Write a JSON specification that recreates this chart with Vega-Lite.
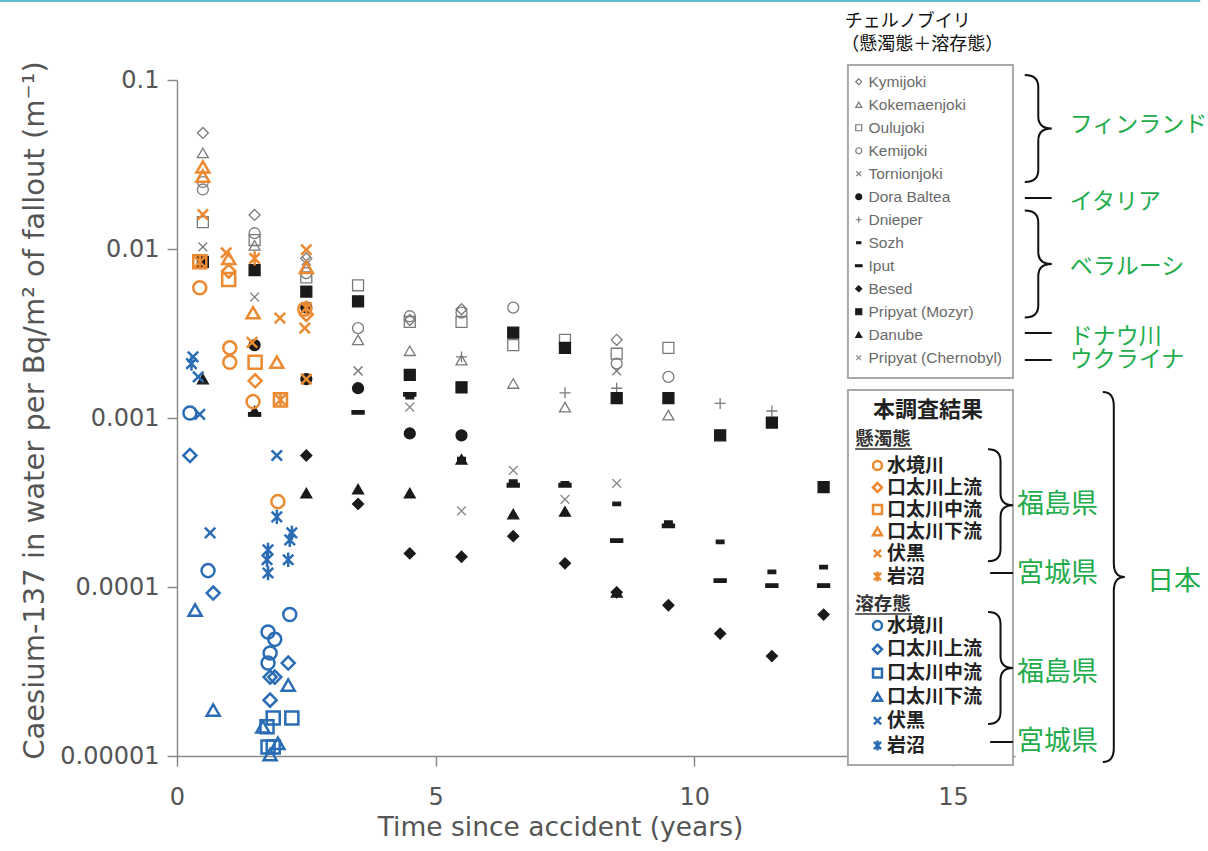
{
  "$schema": "https://vega.github.io/schema/vega-lite/v6.json",
  "width": 838,
  "height": 676,
  "autosize": {"type": "none"},
  "padding": {"left": 177, "top": 80, "right": 193, "bottom": 95},
  "background": "white",
  "config": {"view": {"stroke": null}},
  "datasets": {
    "cher": [
      {"year": 0.5, "value": 0.0486, "river": "Kymijoki"},
      {"year": 1.5, "value": 0.0159, "river": "Kymijoki"},
      {"year": 2.5, "value": 0.0088, "river": "Kymijoki"},
      {"year": 4.5, "value": 0.0038, "river": "Kymijoki"},
      {"year": 5.5, "value": 0.0044, "river": "Kymijoki"},
      {"year": 8.5, "value": 0.0029, "river": "Kymijoki"},
      {"year": 0.5, "value": 0.037, "river": "Kokemaenjoki"},
      {"year": 1.5, "value": 0.0105, "river": "Kokemaenjoki"},
      {"year": 2.5, "value": 0.0077, "river": "Kokemaenjoki"},
      {"year": 3.5, "value": 0.0029, "river": "Kokemaenjoki"},
      {"year": 4.5, "value": 0.0025, "river": "Kokemaenjoki"},
      {"year": 5.5, "value": 0.0022, "river": "Kokemaenjoki"},
      {"year": 6.5, "value": 0.0016, "river": "Kokemaenjoki"},
      {"year": 7.5, "value": 0.00116, "river": "Kokemaenjoki"},
      {"year": 9.5, "value": 0.00104, "river": "Kokemaenjoki"},
      {"year": 0.5, "value": 0.0144, "river": "Oulujoki"},
      {"year": 1.5, "value": 0.0113, "river": "Oulujoki"},
      {"year": 2.5, "value": 0.0068, "river": "Oulujoki"},
      {"year": 3.5, "value": 0.0061, "river": "Oulujoki"},
      {"year": 4.5, "value": 0.0037, "river": "Oulujoki"},
      {"year": 5.5, "value": 0.0037, "river": "Oulujoki"},
      {"year": 6.5, "value": 0.0027, "river": "Oulujoki"},
      {"year": 7.5, "value": 0.0029, "river": "Oulujoki"},
      {"year": 8.5, "value": 0.0024, "river": "Oulujoki"},
      {"year": 9.5, "value": 0.0026, "river": "Oulujoki"},
      {"year": 0.5, "value": 0.0249, "river": "Kemijoki"},
      {"year": 0.5, "value": 0.0225, "river": "Kemijoki"},
      {"year": 1.5, "value": 0.0124, "river": "Kemijoki"},
      {"year": 2.5, "value": 0.0072, "river": "Kemijoki"},
      {"year": 3.5, "value": 0.0034, "river": "Kemijoki"},
      {"year": 4.5, "value": 0.004, "river": "Kemijoki"},
      {"year": 5.5, "value": 0.0042, "river": "Kemijoki"},
      {"year": 6.5, "value": 0.0045, "river": "Kemijoki"},
      {"year": 8.5, "value": 0.0021, "river": "Kemijoki"},
      {"year": 9.5, "value": 0.00175, "river": "Kemijoki"},
      {"year": 0.5, "value": 0.0103, "river": "Tornionjoki"},
      {"year": 1.5, "value": 0.0052, "river": "Tornionjoki"},
      {"year": 2.5, "value": 0.0085, "river": "Tornionjoki"},
      {"year": 3.5, "value": 0.0019, "river": "Tornionjoki"},
      {"year": 8.5, "value": 0.0019, "river": "Tornionjoki"},
      {"year": 1.5, "value": 0.0027, "river": "Dora Baltea"},
      {"year": 2.5, "value": 0.0017, "river": "Dora Baltea"},
      {"year": 2.5, "value": 0.0045, "river": "Dora Baltea"},
      {"year": 3.5, "value": 0.0015, "river": "Dora Baltea"},
      {"year": 4.5, "value": 0.00081, "river": "Dora Baltea"},
      {"year": 5.5, "value": 0.00079, "river": "Dora Baltea"},
      {"year": 5.5, "value": 0.0023, "river": "Dnieper"},
      {"year": 7.5, "value": 0.00141, "river": "Dnieper"},
      {"year": 8.5, "value": 0.0015, "river": "Dnieper"},
      {"year": 10.5, "value": 0.00122, "river": "Dnieper"},
      {"year": 11.5, "value": 0.0011, "river": "Dnieper"},
      {"year": 4.5, "value": 0.00133, "river": "Sozh"},
      {"year": 5.5, "value": 0.00057, "river": "Sozh"},
      {"year": 6.5, "value": 0.00042, "river": "Sozh"},
      {"year": 7.5, "value": 0.00041, "river": "Sozh"},
      {"year": 8.5, "value": 0.00031, "river": "Sozh"},
      {"year": 9.5, "value": 0.00024, "river": "Sozh"},
      {"year": 10.5, "value": 0.000185, "river": "Sozh"},
      {"year": 11.5, "value": 0.000123, "river": "Sozh"},
      {"year": 12.5, "value": 0.000131, "river": "Sozh"},
      {"year": 1.5, "value": 0.00105, "river": "Iput"},
      {"year": 3.5, "value": 0.00108, "river": "Iput"},
      {"year": 4.5, "value": 0.00138, "river": "Iput"},
      {"year": 6.5, "value": 0.0004, "river": "Iput"},
      {"year": 7.5, "value": 0.0004, "river": "Iput"},
      {"year": 8.5, "value": 0.000188, "river": "Iput"},
      {"year": 9.5, "value": 0.00023, "river": "Iput"},
      {"year": 10.5, "value": 0.000109, "river": "Iput"},
      {"year": 11.5, "value": 0.000102, "river": "Iput"},
      {"year": 12.5, "value": 0.000102, "river": "Iput"},
      {"year": 2.5, "value": 0.0006, "river": "Besed"},
      {"year": 3.5, "value": 0.00031, "river": "Besed"},
      {"year": 4.5, "value": 0.000158, "river": "Besed"},
      {"year": 5.5, "value": 0.000151, "river": "Besed"},
      {"year": 6.5, "value": 0.0002, "river": "Besed"},
      {"year": 7.5, "value": 0.000138, "river": "Besed"},
      {"year": 8.5, "value": 0.000093, "river": "Besed"},
      {"year": 9.5, "value": 0.000078, "river": "Besed"},
      {"year": 10.5, "value": 0.000053, "river": "Besed"},
      {"year": 11.5, "value": 0.000039, "river": "Besed"},
      {"year": 12.5, "value": 0.0000687, "river": "Besed"},
      {"year": 0.5, "value": 0.0084, "river": "Pripyat (Mozyr)"},
      {"year": 1.5, "value": 0.0075, "river": "Pripyat (Mozyr)"},
      {"year": 2.5, "value": 0.0056, "river": "Pripyat (Mozyr)"},
      {"year": 3.5, "value": 0.0049, "river": "Pripyat (Mozyr)"},
      {"year": 4.5, "value": 0.0018, "river": "Pripyat (Mozyr)"},
      {"year": 5.5, "value": 0.00152, "river": "Pripyat (Mozyr)"},
      {"year": 6.5, "value": 0.0032, "river": "Pripyat (Mozyr)"},
      {"year": 7.5, "value": 0.0026, "river": "Pripyat (Mozyr)"},
      {"year": 8.5, "value": 0.00131, "river": "Pripyat (Mozyr)"},
      {"year": 9.5, "value": 0.00131, "river": "Pripyat (Mozyr)"},
      {"year": 10.5, "value": 0.00079, "river": "Pripyat (Mozyr)"},
      {"year": 11.5, "value": 0.00094, "river": "Pripyat (Mozyr)"},
      {"year": 12.5, "value": 0.00039, "river": "Pripyat (Mozyr)"},
      {"year": 0.5, "value": 0.0017, "river": "Danube"},
      {"year": 1.5, "value": 0.0011, "river": "Danube"},
      {"year": 2.5, "value": 0.00036, "river": "Danube"},
      {"year": 3.5, "value": 0.00038, "river": "Danube"},
      {"year": 4.5, "value": 0.00036, "river": "Danube"},
      {"year": 5.5, "value": 0.00057, "river": "Danube"},
      {"year": 6.5, "value": 0.00027, "river": "Danube"},
      {"year": 7.5, "value": 0.00028, "river": "Danube"},
      {"year": 8.5, "value": 0.000093, "river": "Danube"},
      {"year": 3.5, "value": 0.0019, "river": "Pripyat (Chernobyl)"},
      {"year": 4.5, "value": 0.00116, "river": "Pripyat (Chernobyl)"},
      {"year": 5.5, "value": 0.000282, "river": "Pripyat (Chernobyl)"},
      {"year": 6.5, "value": 0.00049, "river": "Pripyat (Chernobyl)"},
      {"year": 7.5, "value": 0.00033, "river": "Pripyat (Chernobyl)"},
      {"year": 8.5, "value": 0.00041, "river": "Pripyat (Chernobyl)"}
    ],
    "jp": [
      {"year": 0.44, "value": 0.0059, "site": "水境川", "phase": "懸濁態"},
      {"year": 1.02, "value": 0.0026, "site": "水境川", "phase": "懸濁態"},
      {"year": 1.02, "value": 0.00214, "site": "水境川", "phase": "懸濁態"},
      {"year": 1.47, "value": 0.00125, "site": "水境川", "phase": "懸濁態"},
      {"year": 1.95, "value": 0.00032, "site": "水境川", "phase": "懸濁態"},
      {"year": 2.47, "value": 0.0044, "site": "水境川", "phase": "懸濁態"},
      {"year": 1.0, "value": 0.0074, "site": "口太川上流", "phase": "懸濁態"},
      {"year": 1.51, "value": 0.00166, "site": "口太川上流", "phase": "懸濁態"},
      {"year": 2.5, "value": 0.0041, "site": "口太川上流", "phase": "懸濁態"},
      {"year": 0.44, "value": 0.0084, "site": "口太川中流", "phase": "懸濁態"},
      {"year": 1.0, "value": 0.0066, "site": "口太川中流", "phase": "懸濁態"},
      {"year": 1.51, "value": 0.00214, "site": "口太川中流", "phase": "懸濁態"},
      {"year": 2.0, "value": 0.00128, "site": "口太川中流", "phase": "懸濁態"},
      {"year": 0.5, "value": 0.0306, "site": "口太川下流", "phase": "懸濁態"},
      {"year": 0.5, "value": 0.027, "site": "口太川下流", "phase": "懸濁態"},
      {"year": 1.0, "value": 0.0088, "site": "口太川下流", "phase": "懸濁態"},
      {"year": 1.47, "value": 0.0042, "site": "口太川下流", "phase": "懸濁態"},
      {"year": 1.93, "value": 0.00214, "site": "口太川下流", "phase": "懸濁態"},
      {"year": 2.5, "value": 0.0078, "site": "口太川下流", "phase": "懸濁態"},
      {"year": 0.5, "value": 0.016, "site": "伏黒", "phase": "懸濁態"},
      {"year": 0.95, "value": 0.0095, "site": "伏黒", "phase": "懸濁態"},
      {"year": 1.45, "value": 0.0028, "site": "伏黒", "phase": "懸濁態"},
      {"year": 1.99, "value": 0.0039, "site": "伏黒", "phase": "懸濁態"},
      {"year": 2.5, "value": 0.0099, "site": "伏黒", "phase": "懸濁態"},
      {"year": 2.47, "value": 0.0034, "site": "伏黒", "phase": "懸濁態"},
      {"year": 2.5, "value": 0.0017, "site": "伏黒", "phase": "懸濁態"},
      {"year": 0.44, "value": 0.0084, "site": "岩沼", "phase": "懸濁態"},
      {"year": 1.5, "value": 0.0088, "site": "岩沼", "phase": "懸濁態"},
      {"year": 2.0, "value": 0.00128, "site": "岩沼", "phase": "懸濁態"},
      {"year": 2.5, "value": 0.0045, "site": "岩沼", "phase": "懸濁態"},
      {"year": 0.25, "value": 0.00107, "site": "水境川", "phase": "溶存態"},
      {"year": 0.6, "value": 0.000125, "site": "水境川", "phase": "溶存態"},
      {"year": 2.18, "value": 0.0000687, "site": "水境川", "phase": "溶存態"},
      {"year": 1.76, "value": 0.0000542, "site": "水境川", "phase": "溶存態"},
      {"year": 1.89, "value": 0.000049, "site": "水境川", "phase": "溶存態"},
      {"year": 1.8, "value": 0.0000407, "site": "水境川", "phase": "溶存態"},
      {"year": 1.76, "value": 0.0000355, "site": "水境川", "phase": "溶存態"},
      {"year": 0.25, "value": 0.0006, "site": "口太川上流", "phase": "溶存態"},
      {"year": 0.7, "value": 0.0000921, "site": "口太川上流", "phase": "溶存態"},
      {"year": 2.15, "value": 0.0000355, "site": "口太川上流", "phase": "溶存態"},
      {"year": 1.8, "value": 0.0000293, "site": "口太川上流", "phase": "溶存態"},
      {"year": 1.89, "value": 0.0000293, "site": "口太川上流", "phase": "溶存態"},
      {"year": 1.8, "value": 0.0000214, "site": "口太川上流", "phase": "溶存態"},
      {"year": 2.22, "value": 0.0000168, "site": "口太川中流", "phase": "溶存態"},
      {"year": 1.86, "value": 0.0000168, "site": "口太川中流", "phase": "溶存態"},
      {"year": 1.74, "value": 0.0000149, "site": "口太川中流", "phase": "溶存態"},
      {"year": 1.76, "value": 0.0000113, "site": "口太川中流", "phase": "溶存態"},
      {"year": 1.86, "value": 0.0000113, "site": "口太川中流", "phase": "溶存態"},
      {"year": 0.35, "value": 0.0000731, "site": "口太川下流", "phase": "溶存態"},
      {"year": 0.7, "value": 0.0000187, "site": "口太川下流", "phase": "溶存態"},
      {"year": 2.15, "value": 0.0000263, "site": "口太川下流", "phase": "溶存態"},
      {"year": 1.66, "value": 0.0000149, "site": "口太川下流", "phase": "溶存態"},
      {"year": 1.95, "value": 0.0000119, "site": "口太川下流", "phase": "溶存態"},
      {"year": 1.8, "value": 0.0000102, "site": "口太川下流", "phase": "溶存態"},
      {"year": 0.31, "value": 0.0023, "site": "伏黒", "phase": "溶存態"},
      {"year": 0.41, "value": 0.00175, "site": "伏黒", "phase": "溶存態"},
      {"year": 0.44, "value": 0.00105, "site": "伏黒", "phase": "溶存態"},
      {"year": 0.64, "value": 0.000209, "site": "伏黒", "phase": "溶存態"},
      {"year": 1.93, "value": 0.0006, "site": "伏黒", "phase": "溶存態"},
      {"year": 0.28, "value": 0.0021, "site": "岩沼", "phase": "溶存態"},
      {"year": 1.93, "value": 0.00026, "site": "岩沼", "phase": "溶存態"},
      {"year": 1.76, "value": 0.000166, "site": "岩沼", "phase": "溶存態"},
      {"year": 1.74, "value": 0.000145, "site": "岩沼", "phase": "溶存態"},
      {"year": 1.76, "value": 0.000121, "site": "岩沼", "phase": "溶存態"},
      {"year": 2.22, "value": 0.000209, "site": "岩沼", "phase": "溶存態"},
      {"year": 2.18, "value": 0.00019, "site": "岩沼", "phase": "溶存態"},
      {"year": 2.15, "value": 0.000145, "site": "岩沼", "phase": "溶存態"}
    ],
    "boxes": [
      {"year": 12.97, "year2": 16.16, "value": 0.1227, "value2": 0.001726},
      {"year": 12.97, "year2": 16.16, "value": 0.001466, "value2": 0.00000885}
    ],
    "lines": [
      {"year": 16.39, "year2": 16.91, "value": 0.02004, "kind": "bracket"},
      {"year": 16.39, "year2": 16.91, "value": 0.003184, "kind": "bracket"},
      {"year": 16.39, "year2": 16.91, "value": 0.002204, "kind": "bracket"},
      {"year": 15.72, "year2": 16.16, "value": 0.000121, "kind": "bracket"},
      {"year": 15.72, "year2": 16.16, "value": 0.0000121, "kind": "bracket"},
      {"year": 13.11, "year2": 14.21, "value": 0.000656, "kind": "underline"},
      {"year": 13.11, "year2": 14.21, "value": 0.0000692, "kind": "underline"},
      {"year": -3.42, "year2": 19.78, "value": 0.2934, "kind": "header"}
    ],
    "braces": [
      {"year": 16.65, "value": 0.05164, "kind": "europe"},
      {"year": 16.65, "value": 0.008147, "kind": "europe"},
      {"year": 15.92, "value": 0.000305, "kind": "pref"},
      {"year": 15.92, "value": 0.0000332, "kind": "pref"},
      {"year": 18.11, "value": 0.0001146, "kind": "japan"}
    ],
    "notes": [
      {"year": 17.26, "value": 0.0542, "label": "フィンランド", "grp": "country"},
      {"year": 17.26, "value": 0.01897, "label": "イタリア", "grp": "country"},
      {"year": 17.26, "value": 0.00782, "label": "ベラルーシ", "grp": "country"},
      {"year": 17.26, "value": 0.003013, "label": "ドナウ川", "grp": "country"},
      {"year": 17.26, "value": 0.002204, "label": "ウクライナ", "grp": "country"},
      {"year": 16.24, "value": 0.000305, "label": "福島県", "grp": "pref"},
      {"year": 16.24, "value": 0.0001194, "label": "宮城県", "grp": "pref"},
      {"year": 16.24, "value": 0.000031, "label": "福島県", "grp": "pref"},
      {"year": 16.24, "value": 0.0000121, "label": "宮城県", "grp": "pref"},
      {"year": 18.75, "value": 0.0001072, "label": "日本", "grp": "pref"},
      {"year": 12.91, "value": 0.2203, "label": "チェルノブイリ", "grp": "head"},
      {"year": 12.84, "value": 0.1611, "label": "（懸濁態＋溶存態）", "grp": "head"},
      {"year": 14.52, "value": 0.001114, "label": "本調査結果", "grp": "boxtitle"},
      {"year": 13.11, "value": 0.000752, "label": "懸濁態", "grp": "sub"},
      {"year": 13.11, "value": 0.0000792, "label": "溶存態", "grp": "sub"}
    ]
  },
  "encoding": {
    "x": {
      "field": "year", "type": "quantitative",
      "scale": {"domain": [0, 16.2], "nice": false, "zero": false},
      "axis": {
        "values": [0, 5, 10, 15], "grid": false,
        "title": "Time since accident (years)",
        "titleFont": "DejaVu Sans", "titleFontSize": 26.5, "titleFontWeight": "normal", "titleColor": "#555555",
        "titleX": 383, "titlePadding": 5,
        "labelFont": "DejaVu Sans", "labelFontSize": 24, "labelColor": "#555555", "labelPadding": 19,
        "tickSize": 10, "tickWidth": 1.5, "tickColor": "#8a8a8a", "domainColor": "#8a8a8a", "domainWidth": 1.5,
        "labelFlush": false, "labelOverlap": false
      }
    },
    "y": {
      "field": "value", "type": "quantitative",
      "scale": {"type": "log", "domain": [0.00001, 0.1], "nice": false},
      "axis": {
        "values": [0.00001, 0.0001, 0.001, 0.01, 0.1], "format": ".5~f", "grid": false,
        "title": "Caesium-137 in water per Bq/m² of fallout (m⁻¹)",
        "titleFont": "DejaVu Sans", "titleFontSize": 29, "titleFontWeight": "normal", "titleColor": "#555555",
        "titlePadding": 10, "titleY": 330,
        "labelFont": "DejaVu Sans", "labelFontSize": 24, "labelColor": "#555555", "labelPadding": 8,
        "tickSize": 10, "tickWidth": 1.5, "tickColor": "#8a8a8a", "domainColor": "#8a8a8a", "domainWidth": 1.5,
        "labelOverlap": false
      }
    }
  },
  "layer": [
    {
      "data": {"name": "lines"},
      "transform": [{"filter": "datum.kind === 'header'"}],
      "mark": {"type": "rule", "color": "#5bbccd", "strokeWidth": 2},
      "encoding": {"x2": {"field": "year2"}}
    },
    {
      "data": {"name": "boxes"},
      "mark": {"type": "rect", "fill": "white", "stroke": "#a8a8a8", "strokeWidth": 2},
      "encoding": {"x2": {"field": "year2"}, "y2": {"field": "value2"}}
    },
    {
      "data": {"name": "cher"},
      "mark": {"type": "point", "opacity": 1, "strokeWidth": 1.3, "size": 120},
      "encoding": {
        "shape": {
          "field": "river", "type": "nominal",
          "scale": {
            "domain": ["Kymijoki", "Kokemaenjoki", "Oulujoki", "Kemijoki", "Tornionjoki", "Dora Baltea", "Dnieper", "Sozh", "Iput", "Besed", "Pripyat (Mozyr)", "Danube", "Pripyat (Chernobyl)"],
            "range": ["diamond", "triangle-up", "square", "circle", "M-0.8,-0.8L0.8,0.8M-0.8,0.8L0.8,-0.8", "circle", "M-1,0L1,0M0,-1L0,1", "M-0.7,-0.32L0.7,-0.32L0.7,0.32L-0.7,0.32Z", "M-1.1,-0.32L1.1,-0.32L1.1,0.32L-1.1,0.32Z", "diamond", "square", "triangle-up", "M-0.8,-0.8L0.8,0.8M-0.8,0.8L0.8,-0.8"]
          },
          "legend": {"orient": "none", "legendX": 674, "legendY": -6, "direction": "vertical", "title": null, "padding": 0,
            "labelFont": "Liberation Sans", "labelFontSize": 15.5, "labelColor": "#6a6a6a", "labelOffset": 2,
            "symbolSize": 36, "symbolStrokeWidth": 1.2, "rowPadding": 6}
        },
        "fill": {
          "field": "river", "type": "nominal",
          "scale": {
            "domain": ["Kymijoki", "Kokemaenjoki", "Oulujoki", "Kemijoki", "Tornionjoki", "Dora Baltea", "Dnieper", "Sozh", "Iput", "Besed", "Pripyat (Mozyr)", "Danube", "Pripyat (Chernobyl)"],
            "range": ["transparent", "transparent", "transparent", "transparent", "transparent", "#1a1a1a", "transparent", "#1a1a1a", "#1a1a1a", "#1a1a1a", "#1a1a1a", "#1a1a1a", "transparent"]
          },
          "legend": {"orient": "none", "legendX": 674, "legendY": -6, "direction": "vertical", "title": null, "padding": 0,
            "labelFont": "Liberation Sans", "labelFontSize": 15.5, "labelColor": "#6a6a6a", "labelOffset": 2,
            "symbolSize": 36, "symbolStrokeWidth": 1.2, "rowPadding": 6}
        },
        "stroke": {
          "field": "river", "type": "nominal",
          "scale": {
            "domain": ["Kymijoki", "Kokemaenjoki", "Oulujoki", "Kemijoki", "Tornionjoki", "Dora Baltea", "Dnieper", "Sozh", "Iput", "Besed", "Pripyat (Mozyr)", "Danube", "Pripyat (Chernobyl)"],
            "range": ["#7a7a7a", "#7a7a7a", "#7a7a7a", "#7a7a7a", "#7a7a7a", "#1a1a1a", "#7a7a7a", "#1a1a1a", "#1a1a1a", "#1a1a1a", "#1a1a1a", "#1a1a1a", "#8a8a8a"]
          },
          "legend": {"orient": "none", "legendX": 674, "legendY": -6, "direction": "vertical", "title": null, "padding": 0,
            "labelFont": "Liberation Sans", "labelFontSize": 15.5, "labelColor": "#6a6a6a", "labelOffset": 2,
            "symbolSize": 36, "symbolStrokeWidth": 1.2, "rowPadding": 6}
        }
      }
    },
    {
      "data": {"name": "jp"},
      "transform": [{"filter": "datum.phase === '懸濁態'"}],
      "mark": {"type": "point", "opacity": 1, "strokeWidth": 2.5, "size": 170, "color": "#ec8a32", "filled": false},
      "encoding": {
        "shape": {
          "field": "site", "type": "nominal",
          "scale": {
            "domain": ["水境川", "口太川上流", "口太川中流", "口太川下流", "伏黒", "岩沼"],
            "range": ["circle", "diamond", "square", "triangle-up", "M-0.8,-0.8L0.8,0.8M-0.8,0.8L0.8,-0.8", "M-0.8,-0.8L0.8,0.8M-0.8,0.8L0.8,-0.8M0,-1.1L0,1.1"]
          },
          "legend": {"orient": "none", "legendX": 691, "legendY": 376, "direction": "vertical", "title": null, "padding": 0,
            "labelFont": "Noto Sans CJK JP", "labelFontSize": 19, "labelFontWeight": "bold", "labelColor": "#222222", "labelOffset": 0,
            "symbolSize": 80, "symbolStrokeWidth": 2.5, "symbolStrokeColor": "#ec8a32", "symbolFillColor": "transparent", "rowPadding": 2}
        }
      }
    },
    {
      "data": {"name": "jp"},
      "transform": [{"filter": "datum.phase === '溶存態'"}],
      "mark": {"type": "point", "opacity": 1, "strokeWidth": 2.5, "size": 170, "color": "#2a6db5", "filled": false},
      "encoding": {
        "shape": {
          "field": "site", "type": "nominal",
          "scale": {
            "domain": ["水境川", "口太川上流", "口太川中流", "口太川下流", "伏黒", "岩沼"],
            "range": ["circle", "diamond", "square", "triangle-up", "M-0.8,-0.8L0.8,0.8M-0.8,0.8L0.8,-0.8", "M-0.8,-0.8L0.8,0.8M-0.8,0.8L0.8,-0.8M0,-1.1L0,1.1"]
          },
          "legend": {"orient": "none", "legendX": 691, "legendY": 536, "direction": "vertical", "title": null, "padding": 0,
            "labelFont": "Noto Sans CJK JP", "labelFontSize": 19, "labelFontWeight": "bold", "labelColor": "#222222", "labelOffset": 0,
            "symbolSize": 80, "symbolStrokeWidth": 2.5, "symbolStrokeColor": "#2a6db5", "symbolFillColor": "transparent", "rowPadding": 3.8}
        }
      }
    },
    {
      "data": {"name": "lines"},
      "transform": [{"filter": "datum.kind === 'bracket'"}],
      "mark": {"type": "rule", "color": "#111111", "strokeWidth": 2},
      "encoding": {"x2": {"field": "year2"}}
    },
    {
      "data": {"name": "lines"},
      "transform": [{"filter": "datum.kind === 'underline'"}],
      "mark": {"type": "rule", "color": "#333333", "strokeWidth": 1.5},
      "encoding": {"x2": {"field": "year2"}}
    },
    {
      "data": {"name": "braces"},
      "transform": [{"filter": "datum.kind === 'europe'"}],
      "mark": {"type": "point", "opacity": 1, "filled": false, "stroke": "#111111", "strokeWidth": 2, "size": 11449,
        "shape": "M-0.252,-1Q0,-1 0,-0.776L0,-0.224Q0,0 0.252,0Q0,0 0,0.224L0,0.776Q0,1 -0.252,1"}
    },
    {
      "data": {"name": "braces"},
      "transform": [{"filter": "datum.kind === 'pref'"}],
      "mark": {"type": "point", "opacity": 1, "filled": false, "stroke": "#111111", "strokeWidth": 2, "size": 12544,
        "shape": "M-0.223,-1Q0,-1 0,-0.786L0,-0.214Q0,0 0.223,0Q0,0 0,0.214L0,0.786Q0,1 -0.223,1"}
    },
    {
      "data": {"name": "braces"},
      "transform": [{"filter": "datum.kind === 'japan'"}],
      "mark": {"type": "point", "opacity": 1, "filled": false, "stroke": "#111111", "strokeWidth": 2, "size": 136900,
        "shape": "M-0.0595,-1Q0,-1 0,-0.924L0,-0.076Q0,0 0.0595,0Q0,0 0,0.076L0,0.924Q0,1 -0.0595,1"}
    },
    {
      "data": {"name": "notes"},
      "transform": [{"filter": "datum.grp === 'country'"}],
      "mark": {"type": "text", "align": "left", "baseline": "middle", "font": "Noto Sans CJK JP", "fontSize": 23, "color": "#22ac4b"},
      "encoding": {"text": {"field": "label"}}
    },
    {
      "data": {"name": "notes"},
      "transform": [{"filter": "datum.grp === 'pref'"}],
      "mark": {"type": "text", "align": "left", "baseline": "middle", "font": "Noto Sans CJK JP", "fontSize": 27, "color": "#22ac4b"},
      "encoding": {"text": {"field": "label"}}
    },
    {
      "data": {"name": "notes"},
      "transform": [{"filter": "datum.grp === 'head'"}],
      "mark": {"type": "text", "align": "left", "baseline": "middle", "font": "Noto Sans CJK JP", "fontSize": 18, "color": "#111111"},
      "encoding": {"text": {"field": "label"}}
    },
    {
      "data": {"name": "notes"},
      "transform": [{"filter": "datum.grp === 'boxtitle'"}],
      "mark": {"type": "text", "align": "center", "baseline": "middle", "font": "Noto Sans CJK JP", "fontSize": 22, "fontWeight": "bold", "color": "#222222"},
      "encoding": {"text": {"field": "label"}}
    },
    {
      "data": {"name": "notes"},
      "transform": [{"filter": "datum.grp === 'sub'"}],
      "mark": {"type": "text", "align": "left", "baseline": "middle", "font": "Noto Sans CJK JP", "fontSize": 18.5, "fontWeight": "bold", "color": "#333333"},
      "encoding": {"text": {"field": "label"}}
    }
  ],
  "resolve": {"scale": {"shape": "independent", "fill": "independent", "stroke": "independent", "color": "independent"}, "legend": {"shape": "independent"}}
}
